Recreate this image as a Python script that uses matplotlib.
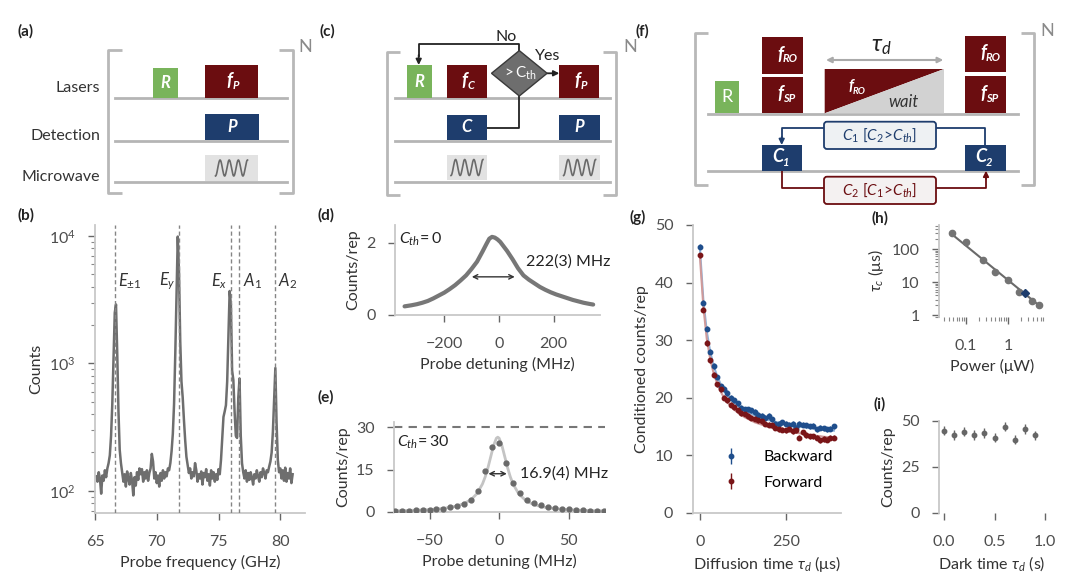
import numpy as np
import matplotlib
matplotlib.use('Agg')
import matplotlib.pyplot as plt
from matplotlib.patches import Rectangle, Polygon, FancyBboxPatch

plt.rcParams['font.family'] = ['Lato', 'DejaVu Sans']
plt.rcParams['mathtext.fontset'] = 'custom'
plt.rcParams['mathtext.rm'] = 'Lato'
plt.rcParams['mathtext.it'] = 'Lato:italic'
plt.rcParams['mathtext.bf'] = 'Lato:bold'
plt.rcParams['font.size'] = 11

# ---- (b) PLE spectrum ----
spec_freq = np.round(np.arange(65.1, 81.05, 0.1), 1)
spec_counts = [130, 118, 140, 125, 95, 132, 120, 145, 128, 150,
               165, 190, 270, 480, 1100, 2500, 2900, 1200, 420, 210,
               165, 140, 118, 135, 108, 142, 125, 112, 138, 120,
               92, 128, 110, 140, 122, 150, 135, 148, 118, 140,
               125, 145, 120, 138, 150, 195, 170, 125, 140, 115,
               132, 108, 138, 120, 145, 125, 140, 130, 150, 145,
               165, 205, 280, 480, 1200, 3300, 9900, 5200, 1500, 720,
               540, 360, 250, 185, 160, 138, 150, 125, 140, 130,
               165, 145, 118, 135, 125, 142, 112, 138, 128, 148,
               120, 135, 110, 145, 125, 140, 118, 135, 122, 148,
               135, 175, 260, 380, 420, 470, 720, 1600, 3700, 2900,
               880, 740, 420, 270, 260, 540, 760, 270, 165, 140,
               125, 145, 118, 138, 122, 140, 128, 112, 135, 125,
               145, 130, 118, 140, 128, 150, 138, 125, 145, 140,
               155, 170, 200, 290, 520, 920, 340, 175, 140, 150,
               125, 145, 120, 152, 118, 138, 125, 150, 115, 135]
line_pos = [66.62, 71.81, 76.0, 76.68, 79.57]
line_names = [r'$E_{\pm 1}$', r'$E_y$', r'$E_x$', r'$A_1$', r'$A_2$']
line_text_x = [66.9, 71.55, 75.75, 76.95, 79.85]
line_text_ha = ['left', 'right', 'right', 'left', 'left']

# ---- (d) C_th = 0 ----
d_det = [-345, -320, -300, -280, -260, -240, -220, -200, -180, -160, -140,
         -120, -100, -80, -60, -45, -35, -25, -15, -5, 5, 15, 30, 50, 70,
         90, 110, 130, 150, 170, 190, 210, 230, 250, 270, 290, 310, 330, 345]
d_counts = [0.24, 0.27, 0.30, 0.34, 0.39, 0.46, 0.54, 0.62, 0.72, 0.83, 0.96,
            1.10, 1.28, 1.48, 1.76, 1.98, 2.12, 2.17, 2.15, 2.10, 2.03, 1.93,
            1.78, 1.55, 1.30, 1.10, 0.98, 0.88, 0.78, 0.70, 0.63, 0.57, 0.52,
            0.47, 0.42, 0.38, 0.34, 0.31, 0.29]

# ---- (e) C_th = 30 ----
e_det = np.arange(-75, 76, 5)
e_counts = [0.3, 0.3, 0.4, 0.5, 0.5, 0.7, 0.9, 1.1, 1.5, 2.0, 2.8, 4.0, 7.2,
            14.5, 23.0, 24.3, 17.3, 10.3, 6.6, 4.3, 3.0, 2.3, 1.7, 1.3, 1.0,
            0.8, 0.6, 0.5, 0.4, 0.3, 0.3]
e_fit_det = [-75, -65, -55, -45, -40, -35, -30, -25, -20, -16, -12, -10, -8,
             -6, -4, -2, -1, 0, 2, 4, 6, 8, 10, 14, 19, 24, 29, 34, 44, 54,
             64, 76]
e_fit = [0.34, 0.45, 0.63, 0.94, 1.19, 1.54, 2.07, 2.92, 4.37, 6.39, 9.83,
         12.42, 15.72, 19.63, 23.53, 26.13, 26.5, 26.13, 23.53, 19.63, 15.72,
         12.42, 9.83, 6.39, 4.01, 2.72, 1.95, 1.46, 0.90, 0.61, 0.44, 0.32]

# ---- (g) diffusion ----
g_time = np.arange(0, 400, 10)
g_backward = [46.2, 36.5, 32.0, 28.0, 25.5, 23.5, 22.0, 21.5, 20.8, 20.0,
              19.5, 19.0, 18.2, 18.0, 18.0, 17.8, 17.5, 17.0, 16.8, 16.5,
              16.8, 16.2, 15.5, 15.5, 15.7, 15.5, 15.3, 15.4, 14.8, 15.4,
              15.3, 15.2, 15.0, 15.1, 14.5, 14.8, 14.7, 14.5, 14.6, 15.0]
g_forward = [44.7, 35.3, 29.5, 26.5, 24.0, 22.3, 21.5, 20.0, 19.5, 18.8,
             18.3, 17.8, 17.3, 17.2, 16.8, 16.5, 16.3, 16.1, 15.9, 15.5,
             15.3, 15.2, 14.8, 14.5, 14.4, 14.3, 14.6, 14.2, 14.3, 13.0,
             14.0, 13.5, 13.3, 13.3, 13.0, 12.6, 12.8, 12.7, 13.0, 13.0]
g_backward_fit = [46.0, 37.0, 31.5, 28.0, 25.5, 23.8, 22.4, 21.3, 20.4, 19.7,
                  19.1, 18.6, 18.2, 17.8, 17.5, 17.2, 16.9, 16.7, 16.5, 16.3,
                  16.1, 15.95, 15.8, 15.65, 15.5, 15.4, 15.3, 15.2, 15.1, 15.0,
                  14.9, 14.8, 14.7, 14.65, 14.55, 14.5, 14.4, 14.35, 14.3, 14.25]
g_forward_fit = [44.5, 35.8, 30.2, 26.7, 24.2, 22.5, 21.1, 20.0, 19.2, 18.5,
                 17.9, 17.4, 17.0, 16.6, 16.3, 16.0, 15.7, 15.5, 15.3, 15.1,
                 14.9, 14.75, 14.6, 14.45, 14.3, 14.2, 14.1, 14.0, 13.9, 13.8,
                 13.7, 13.6, 13.5, 13.45, 13.35, 13.3, 13.2, 13.15, 13.1, 13.05]
g_err = 0.45

# ---- (h) tau_c vs power ----
h_power = [0.048, 0.1, 0.25, 0.5, 1.0, 1.8, 3.8, 5.5]
h_tau = [300, 160, 48, 21, 12, 5.0, 2.8, 2.0]
h_sel_power = [2.6]
h_sel_tau = [4.7]
h_fit_power = [0.05, 5.5]
h_fit_tau = [260, 2.0]

# ---- (i) dark time ----
i_time = [0.0, 0.1, 0.2, 0.3, 0.4, 0.5, 0.6, 0.7, 0.8, 0.9]
i_counts = [44.6, 42.4, 44.1, 42.4, 43.5, 41.0, 47.0, 39.7, 45.6, 42.3]
i_err = 2.5

DARKRED = '#6b0d10'
NAVY = '#1e3d6d'
GREEN = '#79b45b'
BOXGREY = '#e2e2e2'
BRACKET = '#b8b8b8'
SPINE = '#c8c8c8'
TXT = '#333333'
TICKTXT = '#4d4d4d'
TRACE = '#6e6e6e'
BLUE = '#1f4e8c'
RED = '#7a1518'

fig = plt.figure(figsize=(10.8, 5.83), dpi=100)

# overlay in pixel coords for schematics + panel labels
ov = fig.add_axes([0, 0, 1, 1])
ov.set_xlim(0, 1080)
ov.set_ylim(583, 0)
ov.axis('off')


def box(x0, y0, x1, y1, color, z=2):
    ov.add_patch(Rectangle((x0, y0), x1 - x0, y1 - y0, facecolor=color,
                           edgecolor='none', zorder=z))


def blabel(x, y, main, sub=None, size=13, color='white', style='italic',
           weight='bold'):
    if sub is None:
        ov.text(x, y, main, color=color, fontsize=size, fontstyle=style,
                fontweight=weight, ha='center', va='center', zorder=5)
    else:
        ov.text(x + 1, y - 1, main, color=color, fontsize=size, fontstyle=style,
                fontweight=weight, ha='right', va='center', zorder=5)
        ov.text(x + 1, y + 4, sub, color=color, fontsize=size * 0.62,
                fontstyle=style, fontweight=weight, ha='left', va='center',
                zorder=5)


def bracket(xl, xr, y0, y1, serif):
    kw = dict(color=BRACKET, lw=2, solid_capstyle='butt')
    ov.plot([xl + serif, xl, xl, xl + serif], [y0, y0, y1, y1], **kw)
    ov.plot([xr - serif, xr, xr, xr - serif], [y0, y0, y1, y1], **kw)


def wave(xc, yc):
    t = np.linspace(0, 1, 300)
    ov.plot(xc - 16 + 32 * t, yc + 8 * np.cos(2 * np.pi * 3.5 * t),
            color='#6a6a6a', lw=1.2, zorder=5)


def rail(y, x0, x1):
    ov.plot([x0, x1], [y, y], color='#b5b5b5', lw=2, zorder=1)


def arrow(p0, p1, color, style='-|>', lw=1.3, ms=8):
    ov.annotate('', xy=p1, xytext=p0,
                arrowprops=dict(arrowstyle=style, color=color, lw=lw,
                                mutation_scale=ms, shrinkA=0, shrinkB=0))


for lab, (x, y) in zip(['(a)', '(b)', '(c)', '(d)', '(e)', '(f)', '(g)', '(h)', '(i)'],
                       [(18, 31), (18, 215), (320, 31), (318, 215), (318, 397),
                        (635, 31), (630, 217), (872, 218), (873, 404)]):
    ov.text(x, y, lab, fontweight='bold', fontsize=11, ha='left', va='center', color='#222')

# ---- (a) schematic ----
bracket(108, 293, 50, 193, 14)
ov.text(298, 47, 'N', color='#8a8a8a', fontsize=13, ha='left', va='center')
for yy in [98, 140.7, 181.7]:
    rail(yy, 115, 287)
for txt, yy in [('Lasers', 88), ('Detection', 136), ('Microwave', 177)]:
    ov.text(100, yy, txt, ha='right', va='center', fontsize=11.5, color=TXT)
box(153, 68, 178, 98, GREEN)
blabel(165.5, 83, 'R', size=12)
box(205, 65, 258, 98, DARKRED)
blabel(231.5, 81.5, 'f', 'P')
box(205, 114, 259, 140, NAVY)
blabel(232, 127, 'P', size=12)
box(205, 155, 258, 181, BOXGREY)
wave(231.5, 168)

# ---- (c) schematic ----
bracket(387.3, 616, 51.7, 195, 13)
ov.text(623, 47, 'N', color='#8a8a8a', fontsize=13, ha='left', va='center')
for yy in [98.3, 140.7, 181.7]:
    rail(yy, 395, 610)
box(406.7, 65, 431.7, 98.3, GREEN)
blabel(419.2, 82, 'R', size=12)
box(446.7, 65, 486.7, 98.3, DARKRED)
blabel(466.7, 81.5, 'f', 'C')
box(559.3, 65, 599.3, 98.3, DARKRED)
blabel(579.3, 81.5, 'f', 'P')
box(446.7, 115, 487.3, 140, NAVY)
blabel(467, 127.5, 'C', size=12)
box(559.3, 115, 600, 140, NAVY)
blabel(579.6, 127.5, 'P', size=12)
box(446.7, 155, 487.3, 180, BOXGREY)
box(559.3, 155, 600, 180, BOXGREY)
wave(467, 167.5)
wave(579.6, 167.5)
ov.plot([487.3, 519.3, 519.3], [127.7, 127.7, 96], color='#222', lw=1.3, zorder=1)
ov.plot([519.3, 519.3, 418.7, 418.7], [50.7, 44.3, 44.3, 56], color='#222', lw=1.3,
        zorder=1)
arrow((418.7, 55), (418.7, 65), '#222')
arrow((547.3, 73.3), (559.3, 73.3), '#222')
ov.add_patch(Polygon([(491.5, 73.3), (519.3, 50.6), (547.1, 73.3), (519.3, 96)],
                     closed=True, facecolor='#6e6e6e', edgecolor='#3a3a3a',
                     lw=1, zorder=3))
ov.text(519.3, 73.3, r'$\mathrm{>C_{th}}$', color='white', fontsize=11,
        ha='center', va='center', zorder=5)
ov.text(506, 37, 'No', fontsize=11.5, ha='center', va='center', color='#222')
ov.text(548, 56, 'Yes', fontsize=11.5, ha='center', va='center', color='#222')

# ---- (f) schematic ----
bracket(695, 1034, 33.3, 185, 13)
ov.text(1040, 31, 'N', color='#8a8a8a', fontsize=13, ha='left', va='center')
rail(114.3, 708, 1018)
rail(171, 708, 1018)
box(715, 81, 739.3, 113.3, GREEN)
blabel(727.2, 97, 'R', size=13, style='normal', weight='normal')
box(762, 37.3, 802.7, 74, DARKRED)
blabel(782, 55, 'f', 'RO', size=13)
box(762, 76.7, 802.7, 113.3, DARKRED)
blabel(782, 94.5, 'f', 'SP', size=13)
box(965, 36, 1005.7, 72.3, DARKRED)
blabel(985, 53.5, 'f', 'RO', size=13)
box(965, 76, 1005.7, 113.3, DARKRED)
blabel(985, 94.5, 'f', 'SP', size=13)
ov.add_patch(Polygon([(824.7, 69), (944, 69), (824.7, 113.3)], closed=True,
                     facecolor=DARKRED, edgecolor='none', zorder=2))
ov.add_patch(Polygon([(824.7, 113.3), (944, 69), (944, 113.3)], closed=True,
                     facecolor='#d2d2d2', edgecolor='none', zorder=2))
blabel(852, 87, 'f', 'RO', size=11)
ov.text(903, 102, 'wait', fontstyle='italic', fontsize=12, color='#333',
        ha='center', va='center', zorder=5)
ov.text(881, 47, r'$\tau_d$', fontsize=17, color='#222', ha='center', va='center')
arrow((880, 60), (826, 60), '#aaaaaa', lw=1.5)
arrow((880, 60), (943.3, 60), '#aaaaaa', lw=1.5)
box(762, 145, 802.3, 170.7, NAVY)
blabel(782, 158, 'C', '1', size=13)
box(965, 145, 1005.7, 170.7, NAVY)
blabel(985, 158, 'C', '2', size=13)
ov.plot([985, 985, 781.7, 781.7], [145, 128.3, 128.3, 138], color=NAVY, lw=1.3, zorder=1)
arrow((781.7, 137), (781.7, 145), NAVY)
ov.plot([781.7, 781.7, 986, 986], [170.7, 188.3, 188.3, 178], color=DARKRED, lw=1.3,
        zorder=1)
arrow((986, 179), (986, 170.7), DARKRED)
ov.add_patch(FancyBboxPatch((824, 121.7), 112, 27.3,
                            boxstyle='round,pad=0,rounding_size=3',
                            facecolor='#eef1f3', edgecolor=NAVY, lw=1.3, zorder=3))
ov.text(880, 135.3, r'$C_1\ [C_2\!>\!C_{th}]$', color=NAVY, fontsize=11,
        ha='center', va='center', zorder=5)
ov.add_patch(FancyBboxPatch((824, 176.7), 112, 27.3,
                            boxstyle='round,pad=0,rounding_size=3',
                            facecolor='#f4f1f1', edgecolor=DARKRED, lw=1.3, zorder=3))
ov.text(880, 190.3, r'$C_2\ [C_1\!>\!C_{th}]$', color=DARKRED, fontsize=11,
        ha='center', va='center', zorder=5)


def style(ax, bottom=True):
    for s in ['top', 'right']:
        ax.spines[s].set_visible(False)
    ax.spines['left'].set_color(SPINE)
    ax.spines['bottom'].set_color(SPINE)
    ax.spines['left'].set_linewidth(1.3)
    ax.spines['bottom'].set_linewidth(1.3)
    if not bottom:
        ax.spines['bottom'].set_visible(False)
    ax.tick_params(which='major', color='#666', labelcolor=TICKTXT, length=5,
                   width=1, labelsize=11.5)
    ax.tick_params(axis='y', which='major', pad=9)
    ax.tick_params(axis='x', which='major', pad=11)
    ax.tick_params(which='minor', color='#888', length=3, width=0.8)
    ax.xaxis.label.set_color(TXT)
    ax.yaxis.label.set_color(TXT)
    ax.xaxis.label.set_fontsize(11.5)
    ax.yaxis.label.set_fontsize(11.5)
    ax.patch.set_alpha(0)


W, H = 1080.0, 583.0


def px_axes(left, top, right, bottom):
    return fig.add_axes([left / W, (H - bottom) / H, (right - left) / W,
                         (bottom - top) / H])


# ---- (b) ----
axb = px_axes(95, 225, 305, 513)
axb.plot(spec_freq, spec_counts, color=TRACE, lw=1.8, zorder=2)
axb.set_yscale('log')
axb.set_xlim(65, 82)
axb.set_ylim(67, 12200)
for pos, name, tx, ha in zip(line_pos, line_names, line_text_x, line_text_ha):
    axb.axvline(pos, color='#858585', lw=1, ls=(0, (3, 2)), zorder=3)
    axb.text(tx, 4400, name, ha=ha, va='center', fontsize=12, color='#333')
axb.set_xticks([65, 70, 75, 80])
axb.set_xlabel('Probe frequency (GHz)')
axb.set_ylabel('Counts')
style(axb)

# ---- (d) ----
axd = px_axes(395, 225, 600, 315)
axd.plot(d_det, d_counts, color='#777777', lw=3, solid_capstyle='round')
axd.set_xlim(-380, 370)
axd.set_ylim(0, 2.5)
axd.set_yticks([0, 2])
axd.set_xticks([-200, 0, 200])
axd.annotate('', xy=(-99, 1.06), xytext=(58, 1.06),
             arrowprops=dict(arrowstyle='<->', color='#333', lw=1, mutation_scale=8,
                             shrinkA=0, shrinkB=0))
axd.text(101, 1.49, '222(3) MHz', fontsize=11.5, va='center', ha='left', color='#222')
axd.text(-367, 2.1, r'$C_{th}\!=0$', fontsize=11.5, va='center', ha='left', color='#222')
axd.set_xlabel('Probe detuning (MHz)')
axd.set_ylabel('Counts/rep')
style(axd)

# ---- (e) ----
axe = px_axes(394, 421.7, 605, 511.7)
axe.plot(e_fit_det, e_fit, color='#c4c4c4', lw=2, zorder=2)
axe.plot(e_det, e_counts, 'o', color='#6a6a6a', ms=3.5, zorder=3)
axe.axhline(30, color='#777', lw=1.5, ls=(0, (4, 3)))
axe.set_xlim(-75.5, 76)
axe.set_ylim(0, 32)
axe.set_yticks([0, 15, 30])
axe.set_xticks([-50, 0, 50])
axe.annotate('', xy=(-7.7, 13.5), xytext=(5.5, 13.5),
             arrowprops=dict(arrowstyle='<->', color='#333', lw=1, mutation_scale=8,
                             shrinkA=0, shrinkB=0))
axe.text(15, 13.5, '16.9(4) MHz', fontsize=11.5, va='center', ha='left', color='#222')
axe.text(-73.6, 24.5, r'$C_{th}\!=30$', fontsize=11.5, va='center', ha='left', color='#222')
axe.set_xlabel('Probe detuning (MHz)')
axe.set_ylabel('Counts/rep')
style(axe)

# ---- (g) ----
axg = px_axes(692.7, 225, 840.7, 512.7)
axg.plot(g_time, g_backward_fit, color='#8fb0d6', lw=1.5, zorder=2)
axg.plot(g_time, g_forward_fit, color='#d09a9a', lw=1.5, zorder=2)
axg.errorbar(g_time, g_backward, yerr=g_err, fmt='o', ms=3.2, color=BLUE,
             elinewidth=1, capsize=0, label='Backward', zorder=3)
axg.errorbar(g_time, g_forward, yerr=g_err, fmt='o', ms=3.2, color=RED,
             elinewidth=1, capsize=0, label='Forward', zorder=3)
axg.set_xlim(-21, 410)
axg.set_ylim(0, 50)
axg.set_yticks([0, 10, 20, 30, 40, 50])
axg.set_xticks([0, 250])
axg.legend(loc='lower left', bbox_to_anchor=(0.1, 0.03), frameon=False,
           handletextpad=1.4, labelspacing=0.7, fontsize=11.5, handlelength=1.2)
axg.set_xlabel(r'Diffusion time $\tau_d$ (μs)')
axg.set_ylabel('Conditioned counts/rep')
style(axg)

# ---- (h) ----
axh = px_axes(939, 225, 1045, 317)
axh.plot(h_fit_power, h_fit_tau, color='#6a6a6a', lw=1.5, zorder=2)
axh.plot(h_power, h_tau, 'o', color='#737373', ms=4.5, zorder=3)
axh.plot(h_sel_power, h_sel_tau, 'D', color=NAVY, ms=4.5, zorder=4)
axh.set_xscale('log')
axh.set_yscale('log')
axh.set_xlim(0.023, 7.6)
axh.set_ylim(0.9, 530)
axh.set_xticks([0.1, 1])
axh.set_xticklabels(['0.1', '1'])
axh.set_yticks([1, 10, 100])
axh.set_yticklabels(['1', '10', '100'])
axh.set_xlabel('Power (μW)')
axh.set_ylabel(r'$\tau_c$ (μs)')
style(axh, bottom=False)

# ---- (i) ----
axi = px_axes(939, 421, 1045, 512.7)
axi.errorbar(i_time, i_counts, yerr=i_err, fmt='o', ms=3.2, color='#666666',
             elinewidth=1, capsize=0)
axi.set_xlim(-0.05, 1.0)
axi.set_ylim(0, 50)
axi.set_yticks([0, 25, 50])
axi.set_xticks([0, 0.5, 1.0])
axi.set_xticklabels(['0.0', '0.5', '1.0'])
axi.set_xlabel(r'Dark time $\tau_d$ (s)')
axi.set_ylabel('Counts/rep')
style(axi, bottom=False)

fig.savefig('out.png', dpi=100)
